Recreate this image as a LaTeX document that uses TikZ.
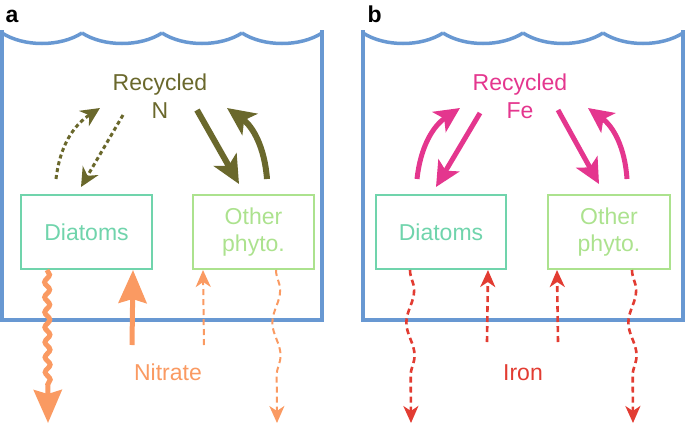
\documentclass[tikz,border=0pt]{standalone}
\usepackage{fontspec}
\setmainfont{Liberation Sans}
\usetikzlibrary{arrows.meta,decorations.pathmorphing}
\definecolor{tankcol}{RGB}{104,152,210}
\definecolor{ncol}{RGB}{106,104,44}
\definecolor{fecol}{RGB}{228,54,142}
\definecolor{nitcol}{RGB}{250,154,98}
\definecolor{ironcol}{RGB}{226,60,50}
\definecolor{diacol}{RGB}{112,212,172}
\definecolor{othcol}{RGB}{172,226,142}

\begin{document}
\begin{tikzpicture}[x=1pt,y=-1pt,
    lbl/.style={font=\fontsize{23}{27.5}\selectfont, align=center},
    box/.style={lbl, draw, line width=2pt, minimum height=74pt},
    tank/.style={tankcol, line width=3.5pt},
    dotflux/.style={line width=3pt, dash pattern=on 4pt off 3pt, -{Stealth[length=19pt,width=18pt,inset=6pt]}},
    bigflux/.style={line width=6pt, -{Stealth[length=28pt,width=26pt,inset=7pt]}},
    fedflux/.style={line width=5pt, -{Stealth[length=25pt,width=24pt,inset=6pt]}},
    thinflux/.style={line width=2.6pt, dash pattern=on 6pt off 4pt, -{Stealth[length=17pt,width=15pt,inset=5pt]}},
    fatflux/.style={line width=5pt, -{Stealth[length=33pt,width=28pt,inset=4pt]}},
    wiggle/.style={decorate, decoration={snake, amplitude=#1, segment length=15pt, post length=36pt}},
    swerve/.style={decorate, decoration={snake, amplitude=4pt, segment length=65pt, post length=40pt}}]
  \useasboundingbox (0,0) rectangle (685,424);

  % panel a: nitrate
  \node[anchor=base west, font=\fontsize{23}{27}\selectfont\bfseries] (labA) at (2,22) {a};
  \draw[tank] (2,30) -- (2,320) -- (322,320) -- (322,30);
  \foreach \x in {2,82,162,242}
    \draw[tank] (\x,33) .. controls (\x+22,47) and (\x+58,47) .. (\x+80,33);
  \node[box, diacol, minimum width=131pt] (diaA) at (86.5,232) {Diatoms};
  \node[box, othcol, minimum width=121pt] (othA) at (253.5,232) {Other\\phyto.};
  \node[lbl, ncol, anchor=base] (recN) at (160,118) {Recycled\\N};
  \draw[ncol, dotflux] ([shift={(36,-15)}]diaA.north west) to[bend left=25] ([shift={(-60,-10)}]recN.base);
  \draw[ncol, dotflux] ([shift={(-37,-3)}]recN.base) -- ([shift={(61,-7)}]diaA.north west);
  \draw[ncol, bigflux] ([shift={(37,-8)}]recN.base) -- ([shift={(47,-10)}]othA.north west);
  \draw[ncol, bigflux] ([shift={(75,-15)}]othA.north west) to[bend right=25] ([shift={(67,-10)}]recN.base);
  \node[lbl, nitcol, anchor=base] (nitA) at (168,380) {Nitrate};
  \coordinate (sinkA1) at (48,423);
  \coordinate (sinkA2) at (277,423);
  \coordinate (srcA1) at (132,345);
  \coordinate (srcA2) at (204,345);
  \draw[nitcol, fatflux, wiggle=2.5pt] ([xshift=27]diaA.south west) -- (sinkA1);
  \draw[nitcol, fatflux] (srcA1) -- ([xshift=-20]diaA.south east);
  \draw[nitcol, thinflux, line width=2pt] (srcA2) -- ([xshift=11]othA.south west);
  \draw[nitcol, thinflux, line width=2pt, swerve] ([xshift=84]othA.south west) -- (sinkA2);

  % panel b: iron
  \node[anchor=base west, font=\fontsize{23}{27}\selectfont\bfseries] (labB) at (364,22) {b};
  \draw[tank] (363,30) -- (363,320) -- (683,320) -- (683,30);
  \foreach \x in {363,443,523,603}
    \draw[tank] (\x,33) .. controls (\x+22,47) and (\x+58,47) .. (\x+80,33);
  \node[box, diacol, minimum width=130pt] (diaB) at (441,232) {Diatoms};
  \node[box, othcol, minimum width=122pt] (othB) at (609,232) {Other\\phyto.};
  \node[lbl, fecol, anchor=base] (recFe) at (520,118) {Recycled\\Fe};
  \draw[fecol, fedflux] ([shift={(42,-15)}]diaB.north west) to[bend left=25] ([shift={(-60,-10)}]recFe.base);
  \draw[fecol, fedflux] ([shift={(-40,-5)}]recFe.base) -- ([shift={(61,-7)}]diaB.north west);
  \draw[fecol, fedflux] ([shift={(38,-8)}]recFe.base) -- ([shift={(52,-10)}]othB.north west);
  \draw[fecol, fedflux] ([shift={(80,-15)}]othB.north west) to[bend right=25] ([shift={(68,-10)}]recFe.base);
  \node[lbl, ironcol, anchor=base] (ironB) at (523,380) {Iron};
  \coordinate (sinkB1) at (411,423);
  \coordinate (sinkB2) at (633,423);
  \coordinate (srcB1) at (487,342);
  \coordinate (srcB2) at (558,342);
  \draw[ironcol, thinflux, swerve] ([xshift=35]diaB.south west) -- (sinkB1);
  \draw[ironcol, thinflux] (srcB1) -- ([xshift=-19]diaB.south east);
  \draw[ironcol, thinflux] (srcB2) -- ([xshift=10]othB.south west);
  \draw[ironcol, thinflux, swerve] ([xshift=85]othB.south west) -- (sinkB2);
\end{tikzpicture}
\end{document}
